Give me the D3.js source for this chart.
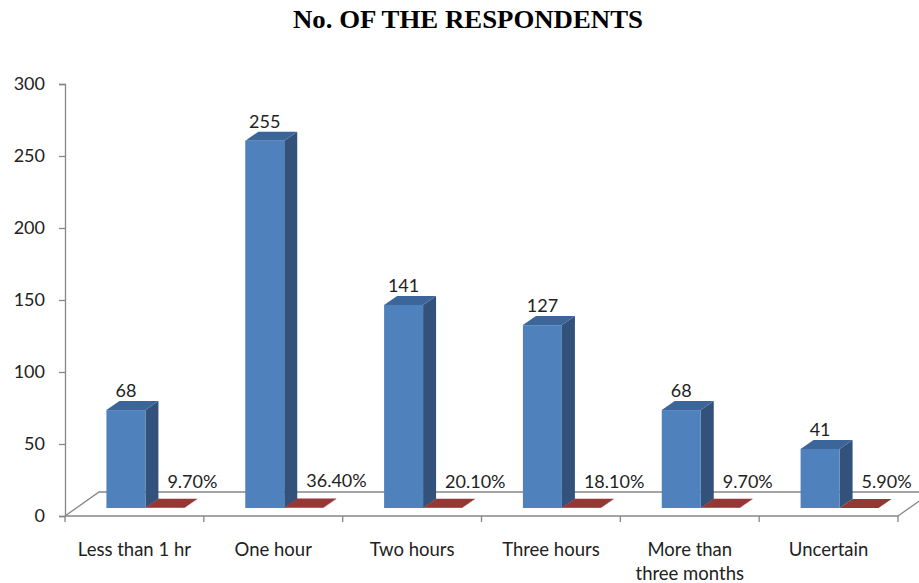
<!DOCTYPE html>
<html>
<head>
<meta charset="utf-8">
<script src="https://cdn.jsdelivr.net/npm/d3@7"></script>
<style>
  body { margin: 0; background: #fff; }
  svg { display: block; }
  .tick text, .cat-label, .val-label { font-family: Lato, "Open Sans", sans-serif; fill: #222; }
</style>
</head>
<body>
<div id="chart"></div>
<script>
"use strict";
// Data
const categories = ["Less than 1 hr", "One hour", "Two hours", "Three hours", "More than three months", "Uncertain"];
const counts = [68, 255, 141, 127, 68, 41];
const percents = [0.097, 0.364, 0.201, 0.181, 0.097, 0.059];
const yTicks = [0, 50, 100, 150, 200, 250, 300];
const series = ["count", "percent"];

(function () {
  const width = 919, height = 583;
  const svg = d3.select("#chart").append("svg").attr("width", width).attr("height", height);

  const x0 = d3.scaleBand().domain(categories).range([65, 898]).padding(0);
  const x1 = d3.scaleBand().domain(series).range([0, x0.bandwidth()]).paddingInner(0).paddingOuter(0.78);
  const y = d3.scaleLinear().domain([0, 300]).range([516, 84]);

  // 3D depth: floor depth vector and the slab the bars occupy
  const floorD = [34, -24];
  const barFront = [11, -8];
  const barBack = [24, -17];

  const axisColor = "#868686";

  // title
  svg.append("text")
    .attr("x", 468).attr("y", 28)
    .attr("text-anchor", "middle")
    .attr("font-family", "'Liberation Serif', 'Times New Roman', serif")
    .attr("font-weight", "bold")
    .attr("font-size", 25)
    .attr("textLength", 350)
    .attr("lengthAdjust", "spacingAndGlyphs")
    .text("No. OF THE RESPONDENTS");

  // floor
  const [fx0, fx1] = x0.range();
  const fy = y(0);
  const floor = svg.append("g").attr("stroke", axisColor).attr("stroke-width", 1.3).attr("fill", "none");
  floor.append("path").attr("d", `M${fx0},${fy}L${fx0 + floorD[0]},${fy + floorD[1]}L${fx1 + floorD[0]},${fy + floorD[1]}L${fx1},${fy}`);
  floor.append("path").attr("d", `M${fx0},${fy}L${fx1},${fy}`);
  floor.selectAll(".xtick")
    .data(categories.map((c) => x0(c)).concat([fx1]))
    .join("line")
    .attr("x1", (d) => d).attr("x2", (d) => d)
    .attr("y1", fy).attr("y2", fy + 6);

  // y axis
  const yAxis = svg.append("g")
    .attr("transform", `translate(${fx0},0)`)
    .call(d3.axisLeft(y).tickValues(yTicks).tickSize(6).tickPadding(14));
  yAxis.select(".domain").attr("stroke", axisColor).attr("stroke-width", 1.3);
  yAxis.selectAll(".tick line").attr("stroke", axisColor).attr("stroke-width", 1.3);
  yAxis.selectAll(".tick text").attr("font-size", 18).attr("fill", "#222");

  // category labels, wrapped when wider than the slot
  const maxLabel = 122;
  const catLabels = svg.append("g").selectAll("text")
    .data(categories)
    .join("text")
    .attr("class", "cat-label")
    .attr("x", (d) => x0(d) + x0.bandwidth() / 2)
    .attr("y", 556)
    .attr("text-anchor", "middle")
    .attr("font-size", 18.5)
    .text((d) => d);
  catLabels.each(function (d) {
    const t = d3.select(this);
    if (this.getComputedTextLength() <= maxLabel) return;
    const words = d.split(" ");
    const lines = [];
    let line = [];
    t.text(null);
    const probe = t.append("tspan");
    words.forEach((w) => {
      line.push(w);
      probe.text(line.join(" "));
      if (probe.node().getComputedTextLength() > maxLabel && line.length > 1) {
        line.pop();
        lines.push(line.join(" "));
        line = [w];
      }
    });
    lines.push(line.join(" "));
    probe.remove();
    t.selectAll("tspan").data(lines).join("tspan")
      .attr("x", x0(d) + x0.bandwidth() / 2)
      .attr("dy", (l, i) => (i === 0 ? 0 : 24))
      .text((l) => l);
  });

  const colors = {
    count: { front: "#4F81BD", side: "#32527C", top: "#3C6699" },
    percent: { front: "#953735", side: "#6E2826", top: "#953735" },
  };

  const rows = categories.map((c, i) => ({ cat: c, values: [
    { key: "count", value: counts[i] },
    { key: "percent", value: percents[i] },
  ] }));

  const bars = svg.append("g");
  rows.forEach((r) => {
    r.values.forEach((v) => {
      const xa = x0(r.cat) + x1(v.key);
      const xb = xa + x1.bandwidth();
      const yt = y(v.value);
      const yb = y(0);
      const c = colors[v.key];
      const g = bars.append("g");
      const P = (px, py, o) => `${px + o[0]},${py + o[1]}`;
      // side face
      g.append("polygon")
        .attr("points", [P(xb, yt, barFront), P(xb, yt, barBack), P(xb, yb, barBack), P(xb, yb, barFront)].join(" "))
        .attr("fill", c.side);
      // top face
      g.append("polygon")
        .attr("points", [P(xa, yt, barFront), P(xa, yt, barBack), P(xb, yt, barBack), P(xb, yt, barFront)].join(" "))
        .attr("fill", c.top);
      // front face
      g.append("rect")
        .attr("x", xa + barFront[0]).attr("y", yt + barFront[1])
        .attr("width", x1.bandwidth()).attr("height", Math.max(0, yb - yt))
        .attr("fill", c.front);
    });
  });

  // value labels
  const labels = svg.append("g");
  rows.forEach((r) => {
    const cnt = r.values[0], pct = r.values[1];
    const xa = x0(r.cat) + x1("count");
    labels.append("text").attr("class", "val-label")
      .attr("x", xa + barFront[0] + x1.bandwidth() / 2)
      .attr("y", y(cnt.value) + barBack[1] - 4)
      .attr("text-anchor", "middle")
      .attr("font-size", 18)
      .text(d3.format("d")(cnt.value));
    const xp = x0(r.cat) + x1("percent");
    labels.append("text").attr("class", "val-label")
      .attr("x", xp + barBack[0] + 9)
      .attr("y", y(pct.value) + barBack[1] - 11)
      .attr("text-anchor", "start")
      .attr("font-size", 18)
      .text(d3.format(".2%")(pct.value));
  });
})();
</script>
</body>
</html>
